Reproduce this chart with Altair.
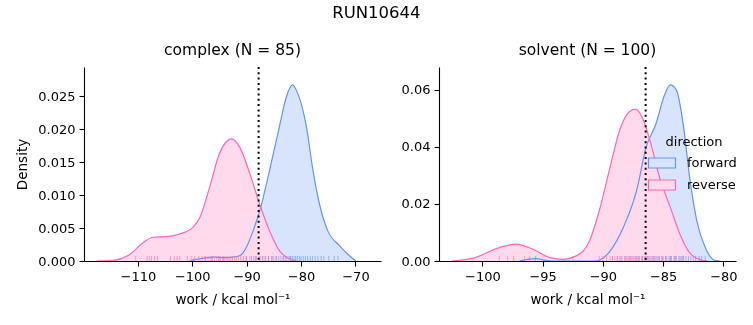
import altair as alt
import pandas as pd

FONT = "DejaVu Sans"
BLUE = "#6495ED"
PINK = "#FF69B4"
BLUE_FILL = "#D8E4FB"
PINK_FILL = "#FFDAEC"

# ---------------- complex panel: KDE curves ----------------
cx_fwd_work = [-100.5, -97.4, -95.9, -94.4, -92.5, -91.3, -90.7, -89.8, -88.8, -87.6, -85.8,
               -84.0, -82.7, -81.6, -80.6, -79.0, -77.8, -76.6, -75.1, -72.9, -71.1, -69.9]
cx_fwd_dens = [0.0, 0.0005, 0.0006, 0.0005, 0.0006, 0.0008, 0.0012, 0.0025, 0.0046, 0.0076, 0.0137,
               0.0203, 0.0249, 0.0267, 0.0254, 0.0203, 0.0137, 0.0086, 0.0046, 0.0023, 0.0008, 0.0]
cx_rev_work = [-117.6, -114.6, -111.5, -109.0, -107.2, -104.7, -102.3, -99.9, -98.6, -96.8,
               -95.0, -93.8, -92.8, -91.3, -89.4, -87.6, -85.8, -83.9, -82.1, -80.9]
cx_rev_dens = [0.0, 0.0001, 0.0010, 0.0028, 0.0036, 0.0037, 0.0041, 0.0051, 0.0066, 0.0112,
               0.0163, 0.0180, 0.0185, 0.0173, 0.0132, 0.0086, 0.0046, 0.0015, 0.0003, 0.0]

# ---------------- solvent panel ----------------
sv_fwd_work = [-96.9, -95.6, -94.3, -90.6, -89.4, -88.3, -87.2, -86.4, -85.6, -84.9, -84.4,
               -83.9, -83.3, -82.8, -82.2, -81.5, -80.7, -80.3]
sv_fwd_dens = [0.0, 0.0008, 0.0, 0.0, 0.0035, 0.0118, 0.0247, 0.0400, 0.0480, 0.0580, 0.0617,
               0.0600, 0.0470, 0.0294, 0.0141, 0.0047, 0.0002, 0.0]
sv_rev_work = [-102.5, -100.6, -98.6, -97.2, -95.8, -94.4, -93.3, -92.2, -91.1, -90.3, -89.4,
               -88.6, -87.8, -87.3, -86.7, -86.1, -85.3, -84.4, -83.6, -82.8, -81.9, -81.3]
sv_rev_dens = [0.0, 0.0012, 0.0047, 0.0059, 0.0041, 0.0012, 0.0006, 0.0018, 0.0071, 0.0176, 0.0329,
               0.0459, 0.0523, 0.0532, 0.0500, 0.0424, 0.0294, 0.0188, 0.0094, 0.0029, 0.0004, 0.0]

# ---------------- rug (individual work values) ----------------
cx_fwd_rug = [-97.6, -96.4, -95.1, -94.3, -90.0, -89.1, -88.4, -87.7, -87.1, -86.5, -86.0, -85.4,
              -85.0, -84.6, -84.1, -83.7, -83.3, -82.9, -82.6, -82.2, -81.9, -81.6, -81.3, -81.0,
              -80.7, -80.3, -80.0, -79.6, -79.2, -78.8, -78.3, -77.9, -77.4, -76.9, -76.3, -75.8,
              -74.9, -73.9, -73.2]
cx_rev_rug = [-110.4, -108.3, -107.9, -107.5, -106.9, -106.4, -104.0, -103.3, -102.8, -102.3,
              -100.9, -100.2, -99.6, -98.8, -98.2, -97.6, -97.1, -96.7, -96.3, -95.9, -95.5,
              -95.1, -94.8, -94.4, -94.1, -93.8, -93.5, -93.2, -92.9, -92.6, -92.2, -91.9,
              -91.5, -91.1, -90.6, -90.1, -89.4, -88.7, -88.2, -87.5, -86.8, -86.0, -85.3, -84.5,
              -83.2, -82.0]
sv_fwd_rug = [-95.6, -89.2, -88.8, -88.5, -88.1, -87.8, -87.5, -87.2, -87.0, -86.7, -86.5, -86.3,
              -86.1, -85.9, -85.7, -85.5, -85.3, -85.1, -85.0, -84.8, -84.7, -84.5, -84.4, -84.3,
              -84.1, -84.0, -83.9, -83.7, -83.6, -83.4, -83.3, -83.1, -82.9, -82.7, -82.5, -82.3,
              -82.0, -81.8, -81.5]
sv_rev_rug = [-98.6, -97.9, -97.4, -96.5, -96.1, -92.5, -90.3, -90.0, -89.7, -89.4, -89.2, -89.0,
              -88.8, -88.6, -88.4, -88.2, -88.0, -87.9, -87.7, -87.6, -87.4, -87.3, -87.1, -87.0,
              -86.8, -86.7, -86.5, -86.4, -86.2, -86.0, -85.8, -85.6, -85.4, -85.1, -84.8, -84.4,
              -84.0, -83.5]

cx_mean = -87.8
sv_mean = -86.45

directions = ["forward", "reverse"]
stroke_scale = alt.Scale(domain=directions, range=[BLUE, PINK])
fill_scale = alt.Scale(domain=directions, range=[BLUE_FILL, PINK_FILL])

H = 194
W = 297


def curves(fw, fd, rw, rd):
    return pd.DataFrame({
        "work": fw + rw,
        "density": fd + rd,
        "direction": ["forward"] * len(fw) + ["reverse"] * len(rw),
    })


def panel(cdf, frug, rrug, mean, xdom, xticks, ydom, yticks, yfmt, title, ytitle):
    xenc = alt.X("work:Q", scale=alt.Scale(domain=xdom, nice=False, zero=False),
                 axis=alt.Axis(values=xticks, title="work / kcal mol⁻¹", format="d"))
    yenc = alt.Y("density:Q", scale=alt.Scale(domain=ydom, nice=False), stack=None,
                 axis=alt.Axis(values=yticks, format=yfmt, title=ytitle))
    area = alt.Chart(cdf).mark_area(interpolate="monotone", blend="multiply", clip=True).encode(
        x=xenc, y=yenc,
        fill=alt.Fill("direction:N", scale=fill_scale, title="direction"),
    )
    line = alt.Chart(cdf).mark_line(interpolate="monotone", strokeWidth=1.2, clip=True).encode(
        x=xenc, y=yenc,
        stroke=alt.Stroke("direction:N", scale=stroke_scale, title="direction"),
    )
    rug_f = alt.Chart(pd.DataFrame({"work": frug})).mark_rule(
        color=BLUE, strokeWidth=1, opacity=0.6).encode(
        x="work:Q", y=alt.value(H), y2=alt.value(H - 5))
    rug_r = alt.Chart(pd.DataFrame({"work": rrug})).mark_rule(
        color=PINK, strokeWidth=1, opacity=0.6).encode(
        x="work:Q", y=alt.value(H), y2=alt.value(H - 5))
    vline = alt.Chart(pd.DataFrame({"work": [mean]})).mark_rule(
        color="black", strokeWidth=2, strokeDash=[2, 3.3]).encode(x="work:Q")
    return alt.layer(area, line, rug_f, rug_r, vline).properties(
        width=W, height=H,
        title=alt.Title(title, fontSize=15.5, fontWeight="normal", font=FONT, offset=8),
    )


left = panel(curves(cx_fwd_work, cx_fwd_dens, cx_rev_work, cx_rev_dens), cx_fwd_rug, cx_rev_rug,
             cx_mean, [-119.9, -65.3], [-110, -100, -90, -80, -70], [0, 0.0294],
             [0, 0.005, 0.01, 0.015, 0.02, 0.025], ".3f", "complex (N = 85)", "Density")
right = panel(curves(sv_fwd_work, sv_fwd_dens, sv_rev_work, sv_rev_dens), sv_fwd_rug, sv_rev_rug,
              sv_mean, [-103.6, -78.95], [-100, -95, -90, -85, -80], [0, 0.068],
              [0, 0.02, 0.04, 0.06], ".2f", "solvent (N = 100)", "")

chart = alt.hconcat(left, right, spacing=20).properties(
    title=alt.Title("RUN10644", fontSize=16.5, fontWeight="normal", font=FONT, anchor="middle",
                    offset=21),
    padding={"left": 15, "top": 5, "right": 5, "bottom": 5},
).configure_view(stroke=None).configure_axis(
    grid=False, domainColor="black", tickColor="black", labelColor="black", titleColor="black",
    labelFont=FONT, titleFont=FONT, labelFontSize=13, titleFontSize=13.5, titleFontWeight="normal",
    tickSize=5, labelPadding=4, domainWidth=1.1, tickWidth=1.1, zindex=1,
).configure_axisX(titlePadding=9).configure_axisY(titlePadding=8).configure_legend(
    orient="none", legendX=567, legendY=69, titleFont=FONT, labelFont=FONT, titleFontSize=13,
    labelFontSize=13, titleFontWeight="normal", titleAnchor="middle", titlePadding=3,
    symbolType="M-1.35,-0.5H1.35V0.5H-1.35Z", symbolSize=400, symbolStrokeWidth=1.2,
    rowPadding=3, labelOffset=14,
).configure_title(color="black")

chart.save("out.html", embed_options={"renderer": "svg", "actions": False})
